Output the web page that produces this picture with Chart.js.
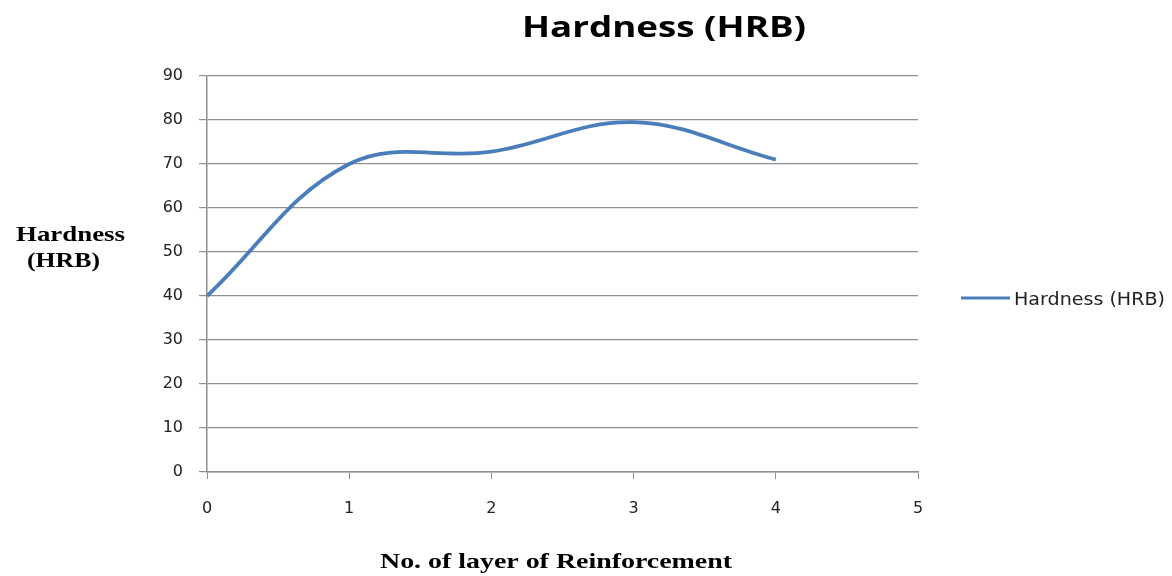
<!DOCTYPE html>
<html>
<head>
<meta charset="utf-8">
<script src="https://cdn.jsdelivr.net/npm/chart.js@4"></script>
<style>
  html, body { margin: 0; padding: 0; background: #fff; }
  #wrap { width: 1172px; height: 576px; position: relative; }
</style>
</head>
<body>
<div id="wrap"><canvas id="hardnessChart" width="1172" height="576"></canvas></div>
<script>
// reading off the picture
const layers = [0, 1, 2, 3, 4];
const hardness = [40, 70, 72.8, 79.5, 71];
const yTicks = [0, 10, 20, 30, 40, 50, 60, 70, 80, 90];
const xTicks = [0, 1, 2, 3, 4, 5];

const chartTitle = 'Hardness (HRB)';
const seriesName = 'Hardness (HRB)';
const xTitle = 'No. of layer of Reinforcement';
const yTitle = ['Hardness', '(HRB)'];

const lineColor = '#4a7ebb';
const gridColor = '#8e8e8e';

// the original picture is a bit stretched sideways, so text is squeezed to a width
function wideText(c, text, cx, baseline, width) {
    const w = c.measureText(text).width;
    c.save();
    c.translate(cx, baseline);
    c.scale(width / w, 1);
    c.textAlign = 'center';
    c.textBaseline = 'alphabetic';
    c.fillText(text, 0, 0);
    c.restore();
}

const textPlugin = {
    id: 'textPlugin',
    afterDraw(chart) {
        const c = chart.ctx;
        c.save();
        c.fillStyle = '#000';

        c.font = 'bold 29px "Open Sans", sans-serif';
        wideText(c, chartTitle, 664, 37, 284);

        c.font = 'bold 22px "Liberation Serif", "Times New Roman", serif';
        wideText(c, yTitle[0], 70.5, 241, 109);
        wideText(c, yTitle[1], 63.5, 267, 73);
        wideText(c, xTitle, 556, 568, 352);

        // legend
        c.strokeStyle = lineColor;
        c.lineWidth = 3;
        c.beginPath();
        c.moveTo(961, 298);
        c.lineTo(1010, 298);
        c.stroke();
        c.fillStyle = '#222';
        c.font = '18px "DejaVu Sans", sans-serif';
        wideText(c, seriesName, 1089.5, 305, 151);
        c.restore();
    }
};

const ctx = document.getElementById('hardnessChart').getContext('2d');

new Chart(ctx, {
    type: 'line',
    data: {
        datasets: [{
            label: seriesName,
            data: layers.map((x, i) => ({ x: x, y: hardness[i] })),
            borderColor: lineColor,
            borderWidth: 3.8,
            pointRadius: 0,
            tension: 0.38,
            fill: false
        }]
    },
    options: {
        responsive: false,
        animation: false,
        layout: { padding: { top: 76, right: 254, bottom: 0, left: 0 } },
        plugins: {
            legend: { display: false },
            title: { display: false },
            tooltip: { enabled: false }
        },
        scales: {
            x: {
                type: 'linear',
                min: 0,
                max: 5,
                afterBuildTicks: (axis) => { axis.ticks = xTicks.map(v => ({ value: v })); },
                afterFit: (axis) => { axis.height = 104; },
                grid: {
                    drawOnChartArea: false,
                    color: gridColor,
                    tickLength: 7
                },
                border: { color: gridColor, width: 1.5 },
                ticks: {
                    padding: 20,
                    color: '#222',
                    font: { family: '"DejaVu Sans", sans-serif', size: 16 }
                }
            },
            y: {
                min: 0,
                max: 90,
                afterBuildTicks: (axis) => { axis.ticks = yTicks.map(v => ({ value: v })); },
                afterFit: (axis) => { axis.width = 207; },
                grid: {
                    color: gridColor,
                    lineWidth: 1.2,
                    tickLength: 8
                },
                border: { color: gridColor, width: 1.5 },
                ticks: {
                    padding: 16,
                    color: '#222',
                    font: { family: '"DejaVu Sans", sans-serif', size: 16 }
                }
            }
        }
    },
    plugins: [textPlugin]
});
</script>
</body>
</html>
